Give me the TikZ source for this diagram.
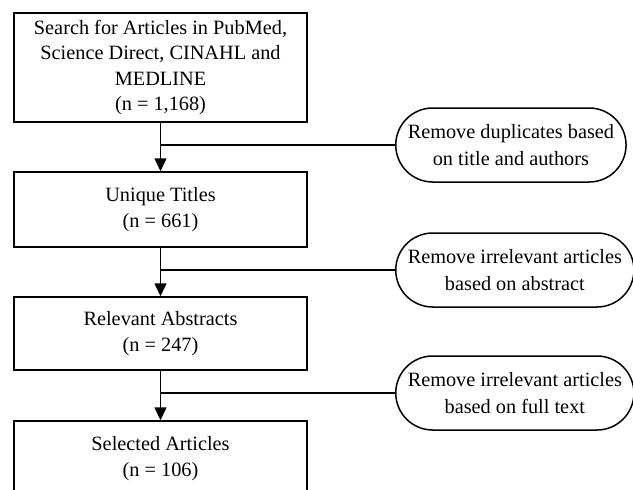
\documentclass[tikz,border=0pt]{standalone}
\usepackage{fontspec}
\setmainfont{Liberation Serif}
\usetikzlibrary{arrows.meta}

\tikzset{
  stagebox/.style={draw, line width=1.5pt, minimum width=293pt, align=center,
    font=\fontsize{20.3}{25.5}\selectfont},
  removebox/.style={draw, line width=1.5pt, rounded corners=37pt, minimum height=74pt,
    inner xsep=12pt, align=center, anchor=west, font=\fontsize{20.3}{26.5}\selectfont},
  flow/.style={line width=1.5pt, -{Triangle[length=13pt, width=12pt]}},
  branch/.style={line width=1.5pt}
}

\begin{document}
\begin{tikzpicture}[x=1pt, y=-1pt]
  \useasboundingbox (0, 0) rectangle (633, 490);
  \clip (0, 0) rectangle (633, 490);

  % stages of the search
  \node[stagebox, minimum height=109pt] (search) at (160.5, 67.5)
    {Search for Articles in PubMed,\\ Science Direct, CINAHL and\\ MEDLINE\\ (n = 1,168)};
  \node[stagebox, minimum height=75pt] (unique) at (160.5, 209.5)
    {Unique Titles\\ (n = 661)};
  \node[stagebox, minimum height=73pt] (relevant) at (160.5, 333.5)
    {Relevant Abstracts\\ (n = 247)};
  \node[stagebox, minimum height=75pt] (selected) at (160.5, 458.5)
    {Selected Articles\\ (n = 106)};

  % exclusion steps
  \node[removebox] (dup) at (395, 145) {Remove duplicates based\\ on title and authors};
  \node[removebox] (abstract) at (395, 270) {Remove irrelevant articles\\ based on abstract};
  \node[removebox] (fulltext) at (395, 393) {Remove irrelevant articles\\ based on full text};

  \draw[flow] (search) -- (unique);
  \draw[flow] (unique) -- (relevant);
  \draw[flow] (relevant) -- (selected);

  \draw[branch] (search.south |- dup.west) -- (dup.west);
  \draw[branch] (unique.south |- abstract.west) -- (abstract.west);
  \draw[branch] (relevant.south |- fulltext.west) -- (fulltext.west);
\end{tikzpicture}
\end{document}
